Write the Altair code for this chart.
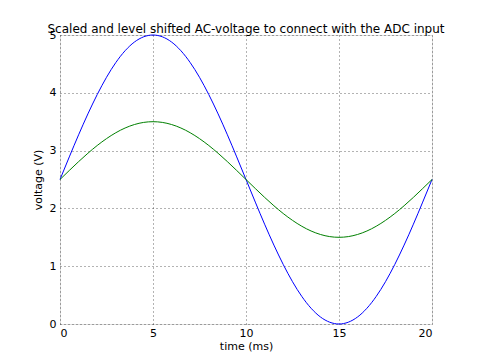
import altair as alt
import pandas as pd

time_ms = [i * 0.5 for i in range(41)]
blue_v = [2.5, 2.891, 3.273, 3.635, 3.969, 4.268, 4.523, 4.728, 4.878, 4.969, 5.0,
          4.969, 4.878, 4.728, 4.523, 4.268, 3.969, 3.635, 3.273, 2.891, 2.5,
          2.109, 1.727, 1.365, 1.031, 0.732, 0.477, 0.272, 0.122, 0.031, 0.0,
          0.031, 0.122, 0.272, 0.477, 0.732, 1.031, 1.365, 1.727, 2.109, 2.5]
green_v = [2.5, 2.656, 2.809, 2.954, 3.088, 3.207, 3.309, 3.391, 3.451, 3.488, 3.5,
           3.488, 3.451, 3.391, 3.309, 3.207, 3.088, 2.954, 2.809, 2.656, 2.5,
           2.344, 2.191, 2.046, 1.912, 1.793, 1.691, 1.609, 1.549, 1.512, 1.5,
           1.512, 1.549, 1.609, 1.691, 1.793, 1.912, 2.046, 2.191, 2.344, 2.5]
series = ["scaled", "shifted"]
colors = ["#0000ff", "#008000"]

rows = []
for t, b, g in zip(time_ms, blue_v, green_v):
    rows.append({"t": t, "v": b, "s": series[0]})
    rows.append({"t": t, "v": g, "s": series[1]})
df = pd.DataFrame(rows)

font = "DejaVu Sans"

chart = alt.Chart(df).mark_line(strokeWidth=1, interpolate="monotone").encode(
    x=alt.X("t:Q", title="time (ms)",
            scale=alt.Scale(domain=[0, 20], nice=False, zero=False),
            axis=alt.Axis(values=[0, 5, 10, 15, 20], format="d", grid=True,
                          gridDash=[1, 3], gridColor="#000000", gridOpacity=0.6,
                          domain=False, ticks=False, labelPadding=3,
                          labelFontSize=11, labelColor="#000000", labelFont=font,
                          titleFontSize=11, titleFontWeight="normal", titleFont=font,
                          titleColor="#000000", titlePadding=2)),
    y=alt.Y("v:Q", title="voltage (V)",
            scale=alt.Scale(domain=[0, 5], nice=False),
            axis=alt.Axis(values=[0, 1, 2, 3, 4, 5], format="d", grid=True,
                          gridDash=[1, 3], gridColor="#000000", gridOpacity=0.6,
                          domain=False, ticks=False, labelPadding=4,
                          labelFontSize=11, labelColor="#000000", labelFont=font,
                          titleFontSize=11, titleFontWeight="normal", titleFont=font,
                          titleColor="#000000", titlePadding=6)),
    color=alt.Color("s:N", scale=alt.Scale(domain=series, range=colors), legend=None),
).properties(
    width=372,
    height=289,
    autosize=alt.AutoSizeParams(type="none"),
    padding={"left": 52, "top": 27, "right": 40, "bottom": 36},
    title=alt.TitleParams("Scaled and level shifted AC-voltage to connect with the ADC input",
                          fontSize=12, fontWeight="normal", font=font, color="#000000",
                          anchor="middle", offset=-7),
).configure_view(stroke="#000000", strokeWidth=1).configure(background="#ffffff")

chart.save("out.html", embed_options={"renderer": "svg", "actions": False})
